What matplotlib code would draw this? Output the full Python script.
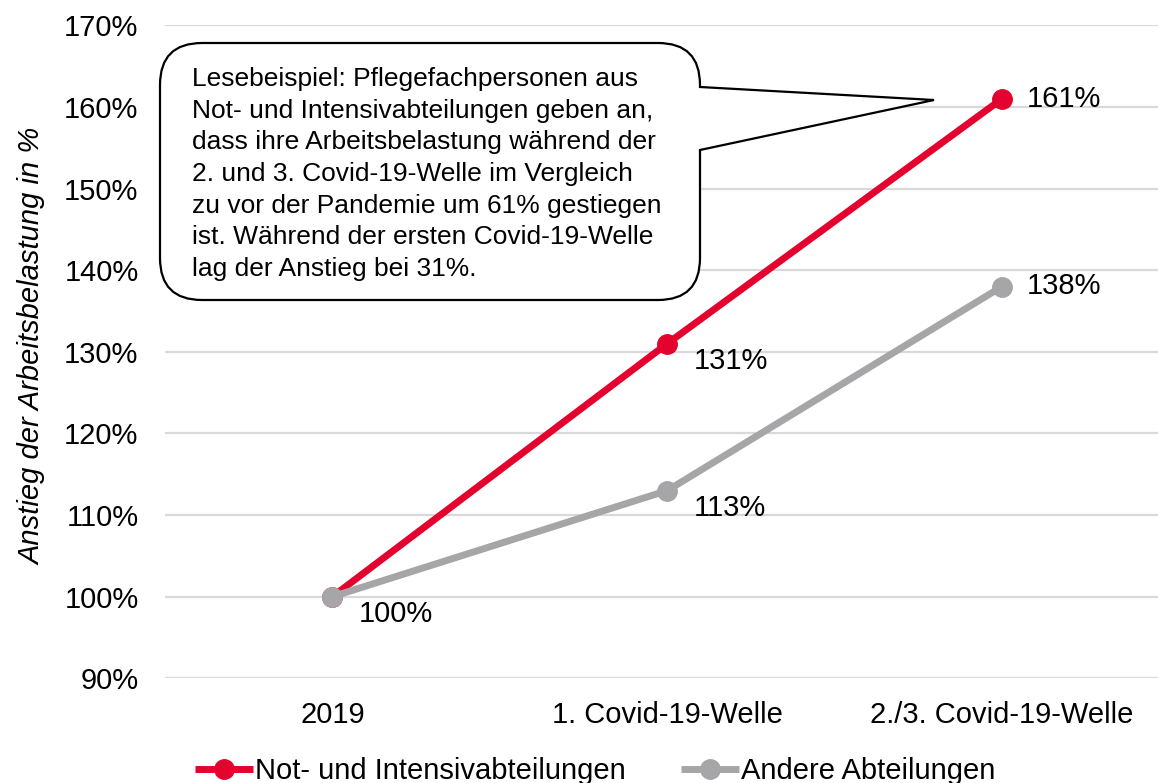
import matplotlib
matplotlib.use("Agg")
import matplotlib.pyplot as plt
from matplotlib.path import Path
from matplotlib.patches import PathPatch
import matplotlib.transforms as mtransforms

plt.rcParams['font.family'] = ['Liberation Sans', 'DejaVu Sans']

categories = ["2019", "1. Covid-19-Welle", "2./3. Covid-19-Welle"]
not_intensiv = [100, 131, 161]
andere = [100, 113, 138]
series_names = ["Not- und Intensivabteilungen", "Andere Abteilungen"]
y_ticks = [90, 100, 110, 120, 130, 140, 150, 160, 170]
y_label = "Anstieg der Arbeitsbelastung in %"
callout_lines = [
    "Lesebeispiel: Pflegefachpersonen aus",
    "Not- und Intensivabteilungen geben an,",
    "dass ihre Arbeitsbelastung während der",
    "2. und 3. Covid-19-Welle im Vergleich",
    "zu vor der Pandemie um 61% gestiegen",
    "ist. Während der ersten Covid-19-Welle",
    "lag der Anstieg bei 31%.",
]

RED = "#E4032E"
GRAY = "#A6A6A9"
FS = 21
W, H = 1158, 783
fig = plt.figure(figsize=(W / 100, H / 100), dpi=100)
ax = fig.add_axes([165 / W, (H - 678.3) / H, 1004.5 / W, 653 / H])

x = list(range(len(categories)))
ax.plot(x, not_intensiv, color=RED, lw=5, marker='o', ms=14, label=series_names[0],
        solid_capstyle='butt', zorder=3)
ax.plot(x, andere, color=GRAY, lw=5, marker='o', ms=14, label=series_names[1],
        solid_capstyle='butt', zorder=3)

ax.set_xlim(-0.5, len(categories) - 0.5)
ax.set_ylim(90, 170)
ax.set_yticks(y_ticks)
ax.set_yticklabels([f"{v}%" for v in y_ticks])
ax.set_xticks(x)
ax.set_xticklabels(categories)
ax.tick_params(axis='both', length=0, labelsize=FS, colors='black')
ax.tick_params(axis='y', pad=19)
ax.tick_params(axis='x', pad=16)
ax.grid(axis='y', color='#D9D9D9', lw=1.6, zorder=0)
ax.set_axisbelow(True)
for s in ax.spines.values():
    s.set_visible(False)

# data labels
for i, (a, b) in enumerate(zip(not_intensiv, andere)):
    if i == len(categories) - 1:
        off = (18, 0)
    else:
        off = (19, -12.5)
    ax.annotate(f"{a}%", (i, a), textcoords='offset points', xytext=off,
                ha='left', va='center', fontsize=FS)
    if i > 0:
        ax.annotate(f"{b}%", (i, b), textcoords='offset points', xytext=off,
                    ha='left', va='center', fontsize=FS)

# y label
fig.text(32 / W, 1 - 346 / H, y_label, rotation=90, style='italic', fontsize=FS,
         ha='center', va='center')

# callout (pixel coordinates from top-left)
pix = mtransforms.Affine2D().scale(1, -1).translate(0, H)
L, R, T, B, r = 160, 700, 43, 300, 42
ty1, ty2, tip = 87, 150, (934, 100)
verts = [
    (L + r, T), (R - r, T),
    (R, T), (R, T + r),
    (R, ty1), tip, (R, ty2),
    (R, B - r), (R, B), (R - r, B),
    (L + r, B), (L, B), (L, B - r),
    (L, T + r), (L, T), (L + r, T),
    (L + r, T),
]
codes = [Path.MOVETO, Path.LINETO,
         Path.CURVE3, Path.CURVE3,
         Path.LINETO, Path.LINETO, Path.LINETO,
         Path.LINETO, Path.CURVE3, Path.CURVE3,
         Path.LINETO, Path.CURVE3, Path.CURVE3,
         Path.LINETO, Path.CURVE3, Path.CURVE3,
         Path.CLOSEPOLY]
patch = PathPatch(Path(verts, codes), transform=pix, facecolor='white',
                  edgecolor='black', lw=1.6, zorder=5, clip_on=False)
ax.add_artist(patch)
for k, line in enumerate(callout_lines):
    ax.text(192, 86 + k * 31.7, line, transform=pix, fontsize=19,
            ha='left', va='baseline', zorder=6, clip_on=False)

leg = fig.legend(loc='center', bbox_to_anchor=(595 / W, 1 - 771 / H), ncol=2,
                 frameon=False, fontsize=FS, handlelength=2.0, handletextpad=0.05,
                 columnspacing=1.9, borderpad=0, borderaxespad=0)

fig.savefig("out.png", dpi=100)
